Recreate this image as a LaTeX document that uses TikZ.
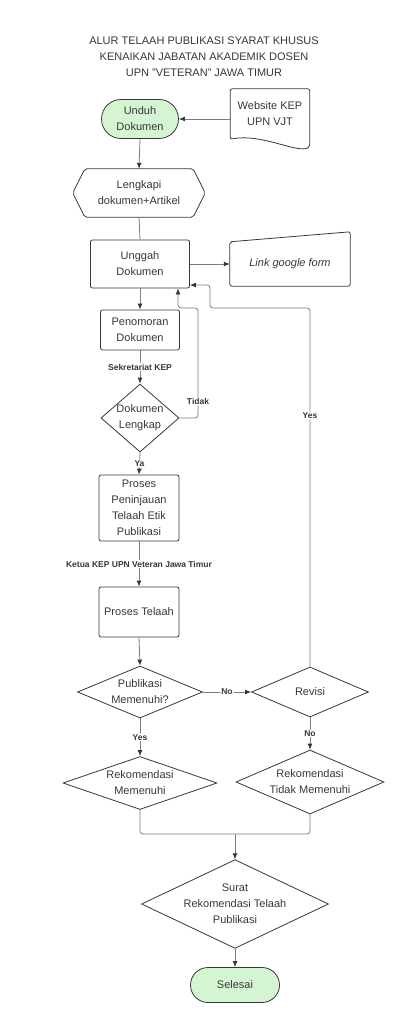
\documentclass[tikz,border=0pt]{standalone}
\usepackage{fontspec}
\setmainfont{Liberation Sans}
\usetikzlibrary{shapes,arrows.meta,positioning,calc}
\definecolor{startgreen}{RGB}{212,245,210}
\definecolor{edgegray}{RGB}{55,55,55}
\definecolor{linegray}{RGB}{125,125,125}

\begin{document}
\begin{tikzpicture}[x=1pt,y=-1pt,
    font=\fontsize{11}{16}\selectfont,
    box/.style={draw=edgegray, line width=0.8pt, rounded corners=2pt, align=center, inner sep=1pt, text=edgegray},
    terminal/.style={rounded rectangle, draw=edgegray, line width=0.8pt, fill=startgreen, align=center, inner sep=1pt, text=edgegray},
    decision/.style={diamond, draw=edgegray, line width=0.8pt, align=center, inner sep=0pt, text=edgegray},
    plain/.style={align=center, inner sep=1pt, text=edgegray},
    outline/.style={draw=edgegray, line width=0.8pt, rounded corners=2pt},
    conn/.style={draw=linegray, line width=0.8pt, rounded corners=3pt},
    arrow/.style={-{Latex[length=6pt,width=5pt,color=edgegray]}},
    lbl/.style={font=\fontsize{8.5}{9}\selectfont\bfseries, fill=white, inner sep=1pt, text=edgegray}]

    \useasboundingbox (0,0) rectangle (409,1024);

    % Title
    \node[plain, font=\fontsize{11}{16}\selectfont] (title) at (204,57)
        {ALUR TELAAH PUBLIKASI SYARAT KHUSUS\\KENAIKAN JABATAN AKADEMIK DOSEN\\UPN "VETERAN" JAWA TIMUR};

    % Start and source document
    \node[terminal, minimum width=79, minimum height=39] (unduh) at (140,119) {Unduh\\Dokumen};
    \node[plain, minimum width=79, minimum height=50] (web) at (270,114) {Website KEP\\UPN VJT};
    \draw[outline] (web.south west) -- (web.north west) -- (web.north east) -- ($(web.south east)+(0,8)$)
        .. controls ($(web.south east)+(-14,14)$) and ($(web.south)+(-8,-6)$) .. (web.south west) -- cycle;
    \draw[conn, arrow] (unduh.east -| web.west) -- (unduh.east);

    % Preparation
    \node[plain, minimum width=132, minimum height=48] (lengkapi) at (139,193) {Lengkapi\\dokumen+Artikel};
    \draw[outline] (lengkapi.west) -- ($(lengkapi.north west)+(12,0)$) -- ($(lengkapi.north east)+(-12,0)$)
        -- (lengkapi.east) -- ($(lengkapi.south east)+(-12,0)$) -- ($(lengkapi.south west)+(12,0)$) -- cycle;
    \draw[conn, arrow] (unduh.south) -- (lengkapi.north);

    % Upload
    \node[box, minimum width=99, minimum height=48] (unggah) at (140,264) {Unggah\\Dokumen};
    \node[plain, minimum width=120, minimum height=44, font=\fontsize{11}{16}\selectfont\itshape] (link) at (290,264) {Link google form};
    \draw[outline] (link.south west) -- (link.north west) -- ($(link.north east)+(0,-10)$) -- (link.south east) -- cycle;
    \draw[conn] (lengkapi.south) -- (unggah.north);
    \draw[conn, arrow] (unggah.east) -- (link.west);

    % Numbering and completeness check
    \node[box, minimum width=79, minimum height=40] (penomoran) at (140,330) {Penomoran\\Dokumen};
    \node[decision, minimum width=78, minimum height=68, aspect=1.15] (cek) at (140,418) {Dokumen\\Lengkap};
    \draw[conn, arrow] (unggah.south) -- (penomoran.north);
    \draw[conn, arrow] (penomoran.south) -- node[lbl] {Sekretariat KEP} (cek.north);
    \draw[conn, arrow] (cek.east) -- (198,418) -- node[lbl, pos=0.15] {Tidak} (198,308) -- (178,308)
        -- ($(unggah.south)+(38,0)$);

    % Review
    \node[box, minimum width=80, minimum height=66] (tinjau) at (139,508) {Proses\\Peninjauan\\Telaah Etik\\Publikasi};
    \node[box, minimum width=80, minimum height=50] (telaah) at (139,612) {Proses Telaah};
    \draw[conn, arrow] (cek.south) -- node[lbl] {Ya} (tinjau.north);
    \draw[conn, arrow] (tinjau.south) -- node[lbl] {Ketua KEP UPN Veteran Jawa Timur} (telaah.north);

    % Decision and revision
    \node[decision, minimum width=125, minimum height=52, aspect=2.4] (memenuhi) at (140,692) {Publikasi\\Memenuhi?};
    \node[decision, minimum width=117, minimum height=50, aspect=2.3] (revisi) at (310,692) {Revisi};
    \draw[conn, arrow] (telaah.south) -- (memenuhi.north);
    \draw[conn, arrow] (memenuhi.east) -- node[lbl] {No} (revisi.west);
    \draw[conn, arrow] (revisi.north) -- node[lbl, pos=0.7] {Yes} (310,308) -- (210,308) -- (210,285)
        -- ($(unggah.east)+(0,21)$);

    % Recommendations
    \node[decision, minimum width=154, minimum height=53, aspect=2.9] (rekom) at (140,783) {Rekomendasi\\Memenuhi};
    \node[decision, minimum width=148, minimum height=64, aspect=2.3] (tolak) at (310,782) {Rekomendasi\\Tidak Memenuhi};
    \draw[conn, arrow] (memenuhi.south) -- node[lbl] {Yes} (rekom.north);
    \draw[conn, arrow] (revisi.south) -- node[lbl] {No} (tolak.north);

    % Letter and end
    \coordinate (gabung) at (235,834);
    \node[decision, minimum width=187, minimum height=88, aspect=2.1] (surat) at (235,904) {Surat\\Rekomendasi Telaah\\Publikasi};
    \node[terminal, minimum width=91, minimum height=35] (selesai) at (235,985) {Selesai};
    \draw[conn] (rekom.south) |- (gabung);
    \draw[conn] (tolak.south) |- (gabung);
    \draw[conn, arrow] (gabung) -- (surat.north);
    \draw[conn, arrow] (surat.south) -- (selesai.north);
\end{tikzpicture}
\end{document}
